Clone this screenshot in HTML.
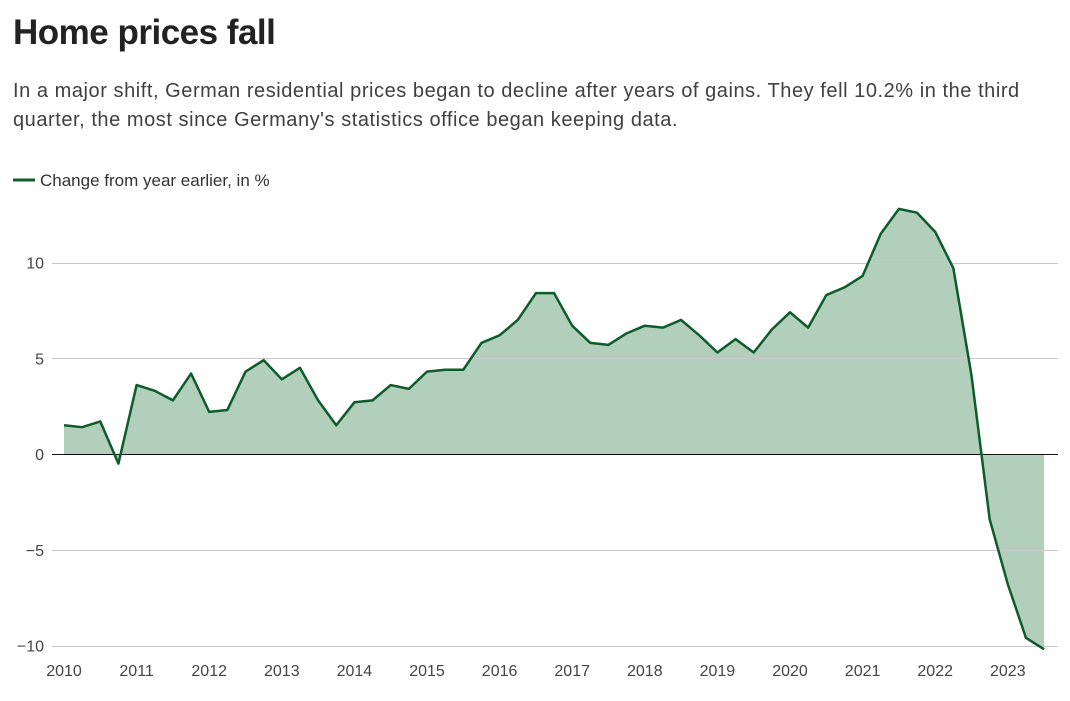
<!DOCTYPE html>
<html><head><meta charset="utf-8"><style>
body{margin:0;background:#fff;font-family:"Liberation Sans",sans-serif;width:1070px;height:701px;overflow:hidden;position:relative;color:#222}
#title{position:absolute;left:13px;top:13px;font-size:35px;font-weight:bold;letter-spacing:-0.5px;margin:0}
#sub{position:absolute;left:13px;top:77px;font-size:20px;line-height:29px;color:#404040;width:1025px;letter-spacing:0.55px}
svg{position:absolute;left:0;top:0}
</style></head><body>
<h1 id="title">Home prices fall</h1>
<div id="sub">In a major shift, German residential prices began to decline after years of gains. They fell 10.2% in the third quarter, the most since Germany's statistics office began keeping data.</div>
<svg id="chart" width="1070" height="701"></svg>
<script>
const years=[2010,2011,2012,2013,2014,2015,2016,2017,2018,2019,2020,2021,2022,2023];
const yTicks=[10,5,0,-5,-10];
const yTickLabels=["10","5","0","\u22125","\u221210"];
const values=[1.5,1.4,1.7,-0.5,3.6,3.3,2.8,4.2,2.2,2.3,4.3,4.9,3.9,4.5,2.8,1.5,2.7,2.8,3.6,3.4,4.3,4.4,4.4,5.8,6.2,7.0,8.4,8.4,6.7,5.8,5.7,6.3,6.7,6.6,7.0,6.2,5.3,6.0,5.3,6.5,7.4,6.6,8.3,8.7,9.3,11.5,12.8,12.6,11.6,9.7,4.1,-3.4,-6.8,-9.6,-10.2];
const startYear=2010;
const NS="http://www.w3.org/2000/svg";
const svg=document.getElementById('chart');
const x=t=>64+(t-2010)*72.6;
const y=v=>454-v*19.15;
function mk(tag,attrs){const e=document.createElementNS(NS,tag);for(const k in attrs)e.setAttribute(k,attrs[k]);svg.appendChild(e);return e;}
const pts=values.map((v,i)=>[x(startYear+i/4),y(v)]);
let area='M'+pts[0][0]+','+y(0)+' '+pts.map(p=>'L'+p[0]+','+p[1]).join(' ')+' L'+pts[pts.length-1][0]+','+y(0)+'Z';
const a=mk('path',{d:area,fill:'#b2cfbc'});


yTicks.forEach((v,i)=>{
  const yy=Math.round(y(v))+0.5;
  const l=mk('line',{x1:52,x2:1058,y1:yy,y2:yy,stroke:v===0?'#111':'#c8c8c8','stroke-width':1});
  
  
  const t=mk('text',{x:44,y:y(v)+6,'text-anchor':'end','font-size':16,fill:'#444'});
  t.textContent=yTickLabels[i];
  
  
});
years.forEach(yr=>{
  const t=mk('text',{x:x(yr),y:676,'text-anchor':'middle','font-size':16,fill:'#444'});
  t.textContent=yr;
  
  
});
const ln=mk('path',{d:'M'+pts.map(p=>p.join(',')).join(' L'),fill:'none',stroke:'#0d5c2a','stroke-width':2.5,'stroke-linejoin':'round'});


const lg=mk('line',{x1:13,x2:35,y1:180,y2:180,stroke:'#0d5c2a','stroke-width':3});


const lt=mk('text',{x:40,y:186,'font-size':17,fill:'#333'});
lt.textContent='Change from year earlier, in %';


</script>
</body></html>
